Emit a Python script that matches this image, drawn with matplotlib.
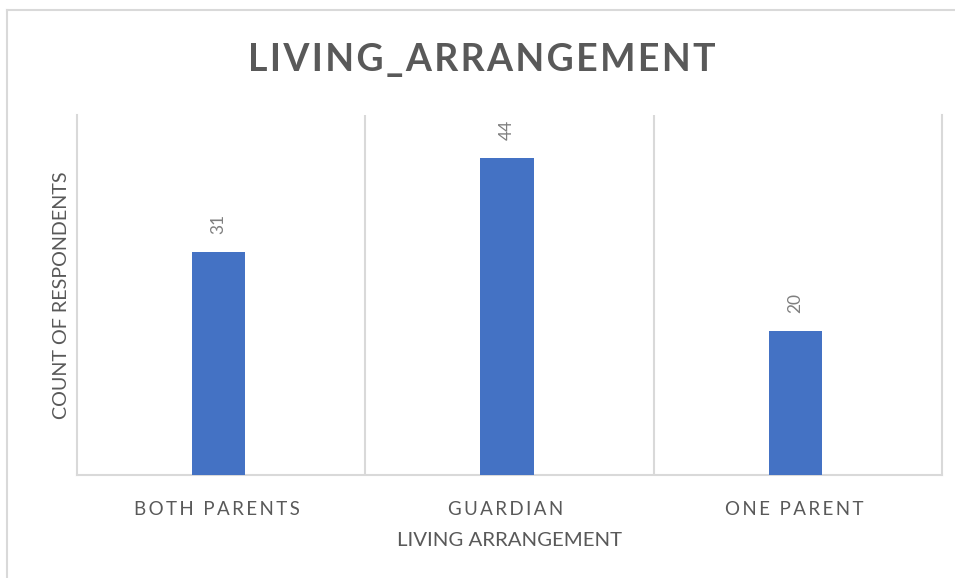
import matplotlib
matplotlib.use("Agg")
import matplotlib.pyplot as plt
from matplotlib.lines import Line2D

categories = ["BOTH PARENTS", "GUARDIAN", "ONE PARENT"]
counts = [31, 44, 20]
title = "LIVING_ARRANGEMENT"
xlabel = "LIVING ARRANGEMENT"
ylabel = "COUNT OF RESPONDENTS"

W, H = 955, 578
plt.rcParams['font.family'] = ['Lato', 'DejaVu Sans']
fig = plt.figure(figsize=(W / 100, H / 100), dpi=100)

def spaced(s, sep="\u200a"):
    return sep.join(list(s))

ax = fig.add_axes([77 / W, 1 - 475 / H, (942 - 77) / W, 360 / H])
x = list(range(len(categories)))
ax.bar([xi - 0.009 for xi in x], counts, width=0.185, color="#4472C4", zorder=3)
ax.set_xlim(-0.5, len(categories) - 0.5)
ax.set_ylim(0, 50)
ax.set_yticks([])
ax.set_xticks([xi - 0.014 for xi in x])
ax.set_xticklabels([spaced(c, "\u2009") for c in categories], color="#595959", fontsize=13.5)
ax.tick_params(axis='x', length=0, pad=19)
for b in [i + 0.5 for i in x[:-1]]:
    ax.axvline(b, color="#d9d9d9", lw=1.5, zorder=1)
ax.spines["top"].set_visible(False)
for side in ["left", "right", "bottom"]:
    ax.spines[side].set_color("#d9d9d9")
    ax.spines[side].set_linewidth(1.5)

for xi, v in zip(x, counts):
    ax.annotate(str(v), (xi - 0.009, v), xytext=(0, 13), textcoords="offset points",
                rotation=90, ha="center", va="bottom", color="#7f7f7f", fontsize=12.5)

ax.set_xlabel(xlabel, color="#595959", fontsize=14.7, labelpad=10)
ax.set_ylabel(ylabel, color="#595959", fontsize=14.2, labelpad=5)

fig.text(482 / W, 1 - 60 / H, spaced(title, "\u200a"), ha="center", va="center",
         fontsize=27, fontweight="bold", color="#595959")

# chart area border
fig.add_artist(Line2D([7 / W, 1.0], [1 - 10 / H, 1 - 10 / H], transform=fig.transFigure,
                      color="#d9d9d9", lw=1.5))
fig.add_artist(Line2D([7 / W, 7 / W], [0, 1 - 10 / H], transform=fig.transFigure,
                      color="#d9d9d9", lw=1.5))

fig.savefig("out.png", dpi=100)
